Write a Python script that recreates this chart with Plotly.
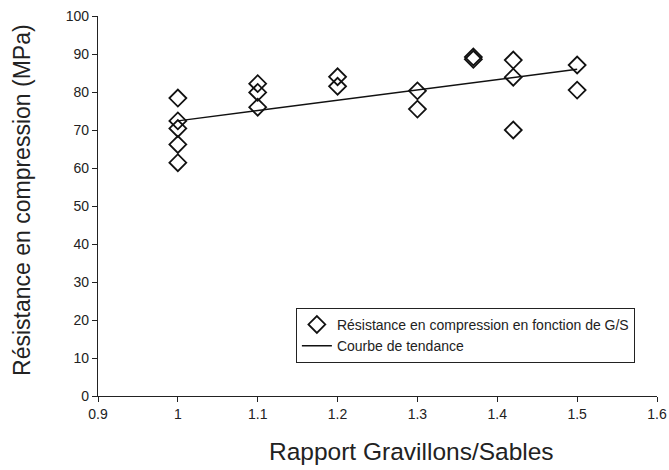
import plotly.graph_objects as go

# Data
gs_ratio = [1.0, 1.0, 1.0, 1.0, 1.0,
            1.1, 1.1, 1.1,
            1.2, 1.2,
            1.3, 1.3,
            1.37, 1.37,
            1.42, 1.42, 1.42,
            1.5, 1.5]
strength = [78.4, 72.4, 70.4, 66.2, 61.4,
            82.2, 79.9, 76.0,
            84.0, 81.5,
            80.3, 75.5,
            89.2, 88.6,
            88.4, 83.9, 70.0,
            87.1, 80.5]
trend_x = [1.0, 1.5]
trend_y = [72.4, 86.0]

x_ticks = [0.9, 1.0, 1.1, 1.2, 1.3, 1.4, 1.5, 1.6]
x_ticklabels = ["0.9", "1", "1.1", "1.2", "1.3", "1.4", "1.5", "1.6"]
y_ticks = [0, 10, 20, 30, 40, 50, 60, 70, 80, 90, 100]

FONT = "Liberation Sans"

fig = go.Figure()
fig.add_trace(go.Scatter(
    x=gs_ratio, y=strength, mode="markers",
    name="Résistance en compression en fonction de G/S",
    marker=dict(symbol="diamond-open", size=13, color="#111111",
                line=dict(width=1.8, color="#111111")),
))
fig.add_trace(go.Scatter(
    x=trend_x, y=trend_y, mode="lines",
    name="Courbe de tendance",
    line=dict(color="#111111", width=1.5),
))

fig.update_layout(
    template="none",
    width=669, height=470,
    margin=dict(l=98, r=12, t=16, b=74, pad=0),
    paper_bgcolor="white", plot_bgcolor="white",
    font=dict(family=FONT, size=14, color="#222222"),
    showlegend=True,
    legend=dict(x=0.354, y=0.232, xanchor="left", yanchor="top",
                bordercolor="#222222", borderwidth=1, bgcolor="white",
                font=dict(family=FONT, size=14, color="#222222"),
                tracegroupgap=0, itemwidth=30),
    xaxis=dict(range=[0.9, 1.6], tickvals=x_ticks, ticktext=x_ticklabels,
               automargin=False, ticklabeloverflow="allow",
               showgrid=False, zeroline=False, showline=True,
               linecolor="#222222", linewidth=1.3,
               ticks="outside", ticklen=5, tickcolor="#222222", tickwidth=1.3,
               tickfont=dict(family=FONT, size=14, color="#222222")),
    yaxis=dict(range=[0, 100], tickvals=y_ticks,
               automargin=False, ticklabeloverflow="allow",
               showgrid=False, zeroline=False, showline=True,
               linecolor="#222222", linewidth=1.3,
               ticks="outside", ticklen=5, tickcolor="#222222", tickwidth=1.3,
               tickfont=dict(family=FONT, size=14, color="#222222")),
    annotations=[
        dict(text="Rapport Gravillons/Sables", xref="paper", yref="paper",
             x=0.56, y=0, yshift=-55, xanchor="center", yanchor="middle",
             showarrow=False, font=dict(family=FONT, size=24.5, color="#222222")),
        dict(text="Résistance en compression (MPa)", xref="paper", yref="paper",
             x=0, xshift=-76, y=0.516, textangle=-90,
             xanchor="center", yanchor="middle",
             showarrow=False, font=dict(family=FONT, size=23, color="#222222")),
    ],
)

# remove the page's default 8px body margin so the 669x470 figure fills the window
fig.write_html("out.html",
               config={"displayModeBar": False},
               post_script="document.body.style.margin='0';document.body.style.overflow='hidden';")
